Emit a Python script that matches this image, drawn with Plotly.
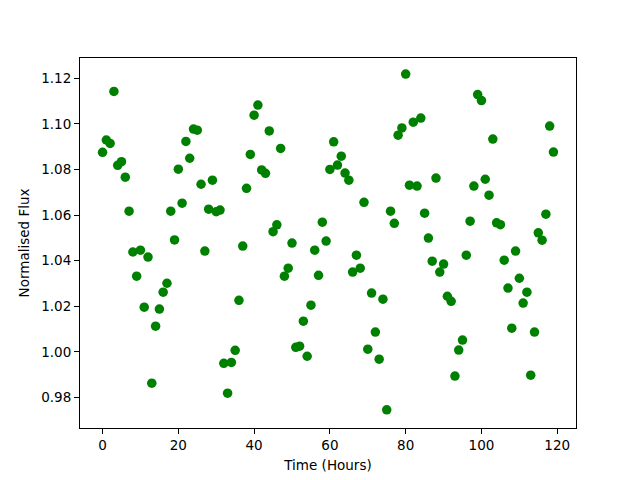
import plotly.graph_objects as go

time_hours = list(range(120))
flux = [
    1.0875, 1.0929, 1.0914, 1.1142, 1.0818, 1.0834, 1.0766, 1.0617, 1.0438, 1.0332,
    1.0446, 1.0196, 1.0416, 0.9863, 1.0113, 1.0188, 1.0262, 1.0301, 1.0617, 1.0491,
    1.0801, 1.0652, 1.0923, 1.0849, 1.0977, 1.0972, 1.0735, 1.0442, 1.0626, 1.0753,
    1.0615, 1.0622, 0.9950, 0.9819, 0.9954, 1.0007, 1.0226, 1.0464, 1.0717, 1.0866,
    1.1038, 1.1082, 1.0798, 1.0783, 1.0969, 1.0527, 1.0557, 1.0892, 1.0332, 1.0367,
    1.0477, 1.0020, 1.0025, 1.0135, 0.9981, 1.0205, 1.0446, 1.0336, 1.0569, 1.0486,
    1.0800, 1.0921, 1.0819, 1.0858, 1.0784, 1.0753, 1.0350, 1.0424, 1.0367, 1.0656,
    1.0012, 1.0258, 1.0087, 0.9968, 1.0231, 0.9746, 1.0617, 1.0564, 1.0950, 1.0982,
    1.1218, 1.0731, 1.1007, 1.0727, 1.1025, 1.0608, 1.0499, 1.0398, 1.0762, 1.0350,
    1.0385, 1.0244, 1.0222, 0.9894, 1.0008, 1.0052, 1.0424, 1.0573, 1.0727, 1.1128,
    1.1102, 1.0757, 1.0687, 1.0933, 1.0566, 1.0558, 1.0402, 1.0280, 1.0104, 1.0442,
    1.0323, 1.0214, 1.0262, 0.9898, 1.0087, 1.0522, 1.0490, 1.0604, 1.0990, 1.0876,
]

x_ticks = [0, 20, 40, 60, 80, 100, 120]
y_ticks = [0.98, 1.00, 1.02, 1.04, 1.06, 1.08, 1.10, 1.12]

fig = go.Figure(go.Scatter(
    x=time_hours, y=flux, mode="markers",
    marker=dict(color="#008000", size=9.5, line=dict(width=0)),
))

font = dict(family="DejaVu Sans", size=13.5, color="black")
axis_common = dict(
    showline=True, linecolor="black", linewidth=1, mirror=True,
    ticks="outside", ticklen=5, tickwidth=1, tickcolor="black",
    showgrid=False, zeroline=False, tickfont=font,
)
fig.update_layout(
    width=640, height=480,
    margin=dict(l=72, r=72, t=50, b=60),
    paper_bgcolor="white", plot_bgcolor="white",
    showlegend=False,
    xaxis=dict(range=[-5.95, 124.95], tickvals=x_ticks,
               ticktext=[str(v) for v in x_ticks],
               title=dict(text="Time (Hours)", font=font, standoff=8),
               **axis_common),
    yaxis=dict(range=[0.96665, 1.12885], tickvals=y_ticks,
               ticktext=[f"{v:.2f}" for v in y_ticks],
               title=dict(text="Normalised Flux", font=font, standoff=8),
               **axis_common),
)

fig.write_html("out.html")
